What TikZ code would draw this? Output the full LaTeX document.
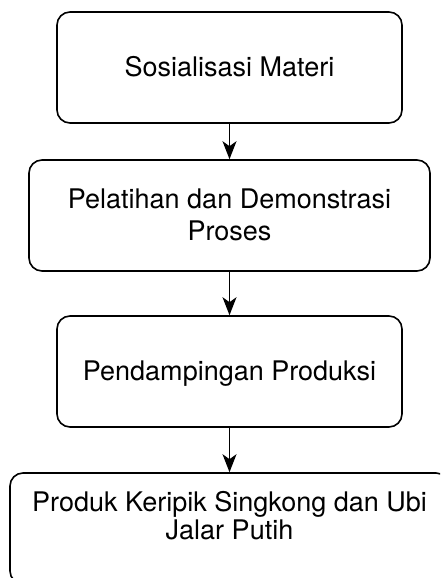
\documentclass[tikz,border=0pt]{standalone}
\usepackage{fontspec}
\setmainfont{TeX Gyre Heros}
\usetikzlibrary{arrows.meta}
\begin{document}
\begin{tikzpicture}[x=1pt,y=-1pt,
  box/.style={draw=black, line width=1.6pt, rounded corners=13pt, fill=white, inner sep=0pt, minimum height=111pt},
  lbl/.style={font=\fontsize{27}{32}\selectfont, align=center, inner sep=0pt},
  conn/.style={draw=black, line width=1.6pt, -{Stealth[length=18pt,width=14pt,inset=5pt]}}]
\useasboundingbox (0,0) rectangle (440,578);
\clip (0,0) rectangle (440,578);
\fill[white] (0,0) rectangle (440,578);
\node[box, minimum width=345pt] (b1) at (229.5,67.5) {};
\node[box, minimum width=401pt] (b2) at (229.5,215.5) {};
\node[box, minimum width=345pt] (b3) at (229.5,371.5) {};
\node[box, minimum width=439pt] (b4) at (229.5,528.5) {};
\node[lbl, anchor=base] (t1) at (229.5,76) {Sosialisasi Materi};
\node[lbl] (t2) at (229.5,214.5) {Pelatihan dan Demonstrasi\\Proses};
\node[lbl, anchor=base] (t3) at (229.5,380) {Pendampingan Produksi};
\node[lbl, font=\fontsize{27}{28}\selectfont] (t4) at (229.5,515.5) {Produk Keripik Singkong dan Ubi\\Jalar Putih};
\draw[conn] (b1.south) -- (b2.north);
\draw[conn] (b2.south) -- (b3.north);
\draw[conn] (b3.south) -- (b4.north);
\end{tikzpicture}
\end{document}
